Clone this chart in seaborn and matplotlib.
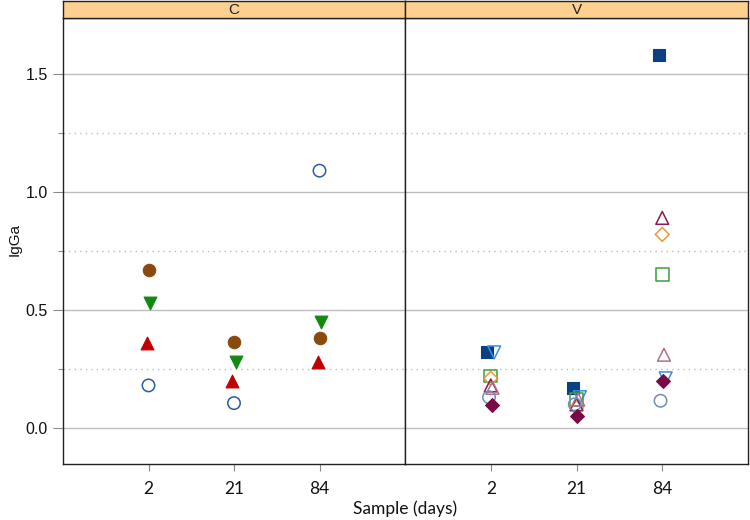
import matplotlib
matplotlib.use("Agg")
import matplotlib.pyplot as plt
import seaborn as sns
import pandas as pd
import numpy as np

# ---- data ----
days = ["2", "21", "84"]

# Panel C
c_brown_circle = [0.67, 0.365, 0.38]
c_green_down = [0.53, 0.28, 0.45]
c_red_up = [0.36, 0.20, 0.28]
c_blue_circle = [0.18, 0.105, 1.09]

# Panel V
v_navy_square = [0.32, 0.17, 1.58]
v_lblue_down = [0.32, 0.13, 0.21]
v_green_square = [0.22, 0.12, 0.65]
v_orange_diamond = [0.21, 0.085, 0.82]
v_purple_up = [0.18, 0.10, 0.89]
v_pink_up = [0.17, 0.12, 0.31]
v_blue_circle = [0.13, 0.10, 0.115]
v_purple_diamond = [0.095, 0.05, 0.20]

series = {
    "C": {
        "brown_circle": c_brown_circle,
        "green_down": c_green_down,
        "red_up": c_red_up,
        "blue_circle": c_blue_circle,
    },
    "V": {
        "navy_square": v_navy_square,
        "lblue_down": v_lblue_down,
        "green_square": v_green_square,
        "orange_diamond": v_orange_diamond,
        "purple_up": v_purple_up,
        "pink_up": v_pink_up,
        "blue_circle_v": v_blue_circle,
        "purple_diamond": v_purple_diamond,
    },
}

# style: marker, color, filled, size, x-dodge
styles = {
    "brown_circle": ("o", "#8a4a0e", True, 80, 0.0),
    "green_down": ("v", "#128a12", True, 85, 0.02),
    "red_up": ("^", "#c00000", True, 85, -0.02),
    "blue_circle": ("o", "#2a5d9e", False, 80, 0.0),
    "navy_square": ("s", "#0a3f82", True, 75, -0.04),
    "lblue_down": ("v", "#3a8fe0", False, 85, 0.04),
    "green_square": ("s", "#3a9e3e", False, 85, 0.0),
    "orange_diamond": ("D", "#ee983a", False, 50, 0.0),
    "purple_up": ("^", "#8a1a50", False, 85, 0.0),
    "pink_up": ("^", "#b36e8e", False, 85, 0.02),
    "blue_circle_v": ("o", "#6d8dbb", False, 80, -0.02),
    "purple_diamond": ("D", "#7a0a45", True, 50, 0.01),
}

rows = []
for panel, d in series.items():
    for name, vals in d.items():
        for i, (day, v) in enumerate(zip(days, vals)):
            rows.append({"panel": panel, "series": name, "day": day, "pos": i + 1, "IgGa": v})
df = pd.DataFrame(rows)

sns.set_theme(style="white")
plt.rcParams["font.family"] = ["Liberation Sans", "DejaVu Sans"]

W, H = 750, 520
fig = plt.figure(figsize=(7.5, 5.2), dpi=100)

left_px, mid_px, right_px = 63, 405, 748
top_px, strip_px, bottom_px = 1, 18, 464

def fx(px):
    return px / W

def fy(py):
    return 1 - py / H

axes = []
for k, (panel, x0, x1) in enumerate([("C", left_px, mid_px), ("V", mid_px, right_px)]):
    ax = fig.add_axes([fx(x0), fy(bottom_px), fx(x1) - fx(x0), fy(strip_px) - fy(bottom_px)])
    sax = fig.add_axes([fx(x0), fy(strip_px), fx(x1) - fx(x0), fy(top_px) - fy(strip_px)])
    sax.set_facecolor("#fdd08f")
    sax.set_xticks([]); sax.set_yticks([])
    for s in sax.spines.values():
        s.set_color("#222222"); s.set_linewidth(1.0)
    sax.text(0.5, 0.45, panel, ha="center", va="center", fontsize=11, color="#222222")

    sub = df[df.panel == panel]
    for name in series[panel]:
        m, col, filled, size, dx = styles[name]
        d = sub[sub.series == name].copy()
        d["x"] = d["pos"] + dx
        if filled:
            sns.scatterplot(data=d, x="x", y="IgGa", ax=ax, marker=m, s=size,
                            color=col, edgecolor=col, linewidth=0.8, zorder=3, legend=False)
        else:
            sns.scatterplot(data=d, x="x", y="IgGa", ax=ax, marker=m, s=size,
                            facecolor="none", edgecolor=col, linewidth=1.1, zorder=3, legend=False)

    ax.set_xlim(0, 4)
    ax.set_ylim(-0.153, 1.737)
    for yv in [0, 0.5, 1.0, 1.5]:
        ax.axhline(yv, color="#bdbdbd", linewidth=1.0, zorder=1)
    for yv in [0.25, 0.75, 1.25]:
        ax.axhline(yv, color="#bdbdbd", linewidth=1.0, linestyle=(0, (1, 3)), zorder=1)
    ax.set_xticks([1, 2, 3])
    ax.set_xticklabels(days, family=["Lato", "DejaVu Sans"], fontsize=12.5)
    ax.tick_params(axis="x", direction="out", length=5, width=0.8, color="#888888", pad=7,
                   bottom=True, labelcolor="#111111")
    ax.set_xlabel("")
    ax.set_ylabel("")
    for s in ax.spines.values():
        s.set_color("#222222"); s.set_linewidth(1.0)
    if k == 0:
        ax.set_yticks([0, 0.5, 1.0, 1.5])
        ax.set_yticklabels(["0.0", "0.5", "1.0", "1.5"], fontsize=11.5)
        ax.set_yticks([0.25, 0.75, 1.25], minor=True)
        ax.tick_params(axis="y", which="major", direction="out", length=7, width=0.8,
                       color="#888888", pad=4, left=True, labelcolor="#111111")
        ax.tick_params(axis="y", which="minor", direction="out", length=3.6, width=0.8,
                       color="#888888", left=True)
    else:
        ax.set_yticks([])
    axes.append(ax)

fig.text(fx(15), fy(240), "IgGa", rotation=90, ha="center", va="center", fontsize=11, color="#111111")
fig.text(fx(405), fy(509), "Sample (days)", ha="center", va="center", fontsize=12.5,
         family=["Lato", "DejaVu Sans"], color="#111111")

fig.savefig("out.png", dpi=100)
